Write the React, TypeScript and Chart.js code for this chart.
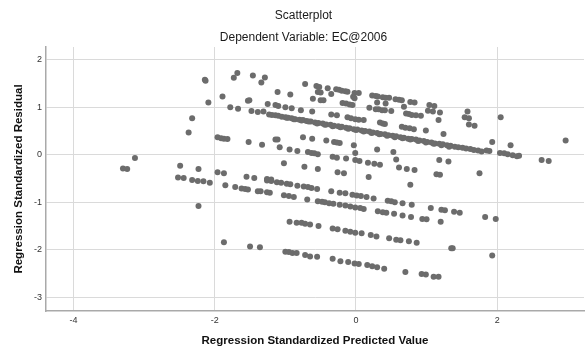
import React, { useEffect, useRef } from "react";
import { Chart, registerables } from "chart.js";

Chart.register(...registerables);

const titleText = "Scatterplot";
const subtitleText = "Dependent Variable: EC@2006";
const xAxisTitle = "Regression Standardized Predicted Value";
const yAxisTitle = "Regression Standardized Residual";

const xTicks = [-4, -2, 0, 2];
const yTicks = [-3, -2, -1, 0, 1, 2];

// Regression standardized predicted value (x) for each case
const predicted = [
  -2.14, -2.13, -2.09, -2.32, -2.37, -3.13, -3.30, -3.24, -2.49, -2.23,
  -2.52, -2.44, -2.32, -2.24, -2.16, -2.07, -1.96, -1.87, -1.55, -1.44,
  -1.26, -1.20, -1.02, -0.83, -1.73, -1.68, -1.46, -1.34, -1.29, -1.11,
  -0.93, -1.89, -1.53, -1.51, -1.78, -1.67, -1.48, -1.39, -1.31, -1.25,
  -1.14, -1.10, -1.00, -0.91, -1.96, -1.91, -1.87, -1.82, -1.52, -1.33,
  -1.14, -1.11, -1.08, -0.94,
  -1.85, -1.71, -1.62, -1.57, -1.53, -1.39, -1.35, -1.26, -1.22, -1.26,
  -1.20, -1.12, -1.06, -0.98, -0.93, -0.83, -1.02, -0.95, -0.88, -2.23,
  -0.94, -0.84, -1.87, -1.50, -1.36, -1.00, -0.95, -0.90, -0.84,
  -0.72, -0.56, -0.52, -0.40, -0.54, -0.50, -0.28, -0.24, -0.20, -0.15,
  -0.12, -0.35, -0.02, 0.04, -0.04, -0.02, -0.61, -0.50, -0.46, 0.23,
  0.28, 0.31, 0.38, 0.42, 0.47, 0.56, 0.61, 0.65, 0.77, 0.83,
  0.30, 0.42, 1.04, 1.11, -0.19, -0.14, -0.09, -0.05, 0.19, 0.28,
  0.32, 0.37, 0.41, 0.50, 0.68, 1.02, 1.09, 1.19, 0.71, 0.75,
  0.79, 0.85, 0.92, 1.17, 1.58, 1.54, 1.60, 1.60, 1.68, 2.05,
  -0.35, -0.27, -0.12, -0.07, -0.01, 0.04, 0.11, -0.62, -0.78, 0.34,
  0.38, 0.41, 0.65, 0.70, 0.76, 0.82, 0.99, 1.24, 2.97, 1.93,
  2.19, 2.63, 2.73, 2.04, 2.10, 2.15, 2.22, 2.28, 2.31, 1.85,
  1.89,
  -0.75, -0.62, -0.42, -0.31, -0.27, -0.23, -0.03, -0.01, -0.68, -0.63,
  -0.59, -0.54, -0.33, -0.27, -0.14, -0.01, 0.05, -0.73, -0.54, -0.26,
  -0.17, 0.17, 0.26, 0.34, 0.30, 0.53, 0.57, 0.61, 0.72, 0.83,
  0.18, 1.18, 1.31, 1.14, 1.19, 1.75,
  0.77, -0.74, -0.68, -0.63, -0.55, -0.35, -0.23, -0.15, -0.05, 0.01,
  0.07, 0.15, 0.25, -0.69, -0.54, -0.48, -0.44, -0.38, -0.32, -0.23,
  -0.15, -0.08, -0.01, 0.06, 0.11, 0.45, 0.50, 0.55, 0.66, 0.79,
  0.31, 0.38, 0.43, 0.54, 0.66, 0.78, 0.94, 1.00, 1.06, 1.21,
  1.26, 1.39, 1.47, 1.20, 1.83, 1.98, -0.77, -0.72, -0.65, -0.53,
  -0.33, -0.26, -0.15, -0.08, -0.01, 0.08, 0.21, 0.29, 0.47, 0.57,
  0.63, 0.75, 0.86, 1.35, 1.37, 1.93, -0.72, -0.65, -0.55, -0.33,
  -0.22, -0.11, -0.02, 0.04, 0.16, 0.23, 0.30, 0.40, 0.70, 0.93,
  0.99, 1.10, 1.17,
  -1.23, -1.19, -1.14, -1.10, -1.05, -1.00, -0.96, -0.91, -0.86, -0.80,
  -0.75, -0.70, -0.64, -0.58, -0.53, -0.47, -0.42, -0.36, -0.31, -0.25,
  -0.20, -0.14, -0.09, -0.03, 0.02, 0.08, 0.13, 0.19, 0.24, 0.30,
  0.35, 0.41, 0.46, 0.52, 0.57, 0.63, 0.68, 0.74, 0.79, 0.85,
  0.90, 0.96, 1.01, 1.07, 1.12, 1.18, 1.23, 1.29, 1.34, 1.40,
  1.45, 1.51, 1.56, 1.62, 1.67, 1.73, 1.78,
  -0.98, -0.88, -0.77, -0.67, -0.55, -0.44, -0.33, -0.22, -0.11, 0.00,
  0.11, 0.22, 0.33, 0.44, 0.55, 0.66, 0.77, 0.88, 0.99, 1.10,
  1.21, 1.32,
];

// Regression standardized residual (y) for each case
const residual = [
  1.58, 1.56, 1.10, 0.77, 0.47, -0.07, -0.29, -0.30, -0.23, -0.30,
  -0.48, -0.49, -0.53, -0.55, -0.56, -0.59, -0.37, -0.39, -0.46, -0.49,
  -0.51, -0.52, -0.18, 0.08, 1.62, 1.72, 1.67, 1.52, 1.63, 1.32,
  1.27, 1.23, 1.14, 1.15, 1.00, 0.97, 0.92, 0.90, 0.91, 1.07,
  1.05, 1.03, 1.00, 0.98, 0.37, 0.35, 0.34, 0.33, 0.27, 0.21,
  0.32, 0.32, 0.16, 0.11,
  -0.64, -0.68, -0.71, -0.72, -0.73, -0.77, -0.77, -0.79, -0.80, -0.54,
  -0.55, -0.58, -0.59, -0.61, -0.62, -0.65, -0.85, -0.87, -0.89, -1.08,
  -1.41, -1.43, -1.84, -1.93, -1.95, -2.04, -2.05, -2.07, -2.07,
  1.49, 1.45, 1.43, 1.40, 1.32, 1.31, 1.38, 1.37, 1.35, 1.34,
  1.33, 1.28, 1.30, 1.30, 1.22, 1.19, 1.18, 1.15, 1.15, 1.25,
  1.24, 1.23, 1.21, 1.20, 1.20, 1.17, 1.16, 1.15, 1.11, 1.10,
  1.10, 1.08, 1.05, 1.03, 1.09, 1.08, 1.06, 1.05, 0.99, 0.96,
  0.96, 0.94, 0.94, 0.92, 1.01, 0.93, 0.91, 0.89, 0.87, 0.86,
  0.84, 0.83, 0.82, 0.73, 0.91, 0.79, 0.77, 0.64, 0.61, 0.79,
  0.85, 0.83, 0.79, 0.77, 0.75, 0.74, 0.73, 0.91, 0.94, 0.68,
  0.66, 0.65, 0.59, 0.57, 0.56, 0.54, 0.51, 0.44, 0.30, 0.27,
  0.20, -0.11, -0.13, 0.04, 0.03, 0.01, -0.01, -0.03, -0.02, 0.09,
  0.08,
  0.37, 0.34, 0.30, 0.27, 0.26, 0.25, 0.20, 0.04, 0.06, 0.04,
  0.03, 0.01, -0.04, -0.06, -0.08, -0.11, -0.13, -0.25, -0.30, -0.37,
  -0.39, -0.17, -0.19, -0.21, 0.11, 0.06, -0.10, -0.27, -0.30, -0.32,
  -0.47, -0.11, -0.14, -0.41, -0.42, -0.39,
  -0.63, -0.67, -0.68, -0.70, -0.72, -0.77, -0.80, -0.81, -0.84, -0.86,
  -0.87, -0.89, -0.92, -0.94, -0.98, -0.99, -1.00, -1.02, -1.03, -1.05,
  -1.07, -1.09, -1.11, -1.12, -1.14, -0.97, -0.98, -1.00, -1.02, -1.05,
  -1.19, -1.21, -1.22, -1.24, -1.28, -1.31, -1.35, -1.36, -1.12, -1.16,
  -1.17, -1.20, -1.22, -1.41, -1.31, -1.35, -1.43, -1.45, -1.47, -1.50,
  -1.55, -1.57, -1.60, -1.62, -1.64, -1.65, -1.69, -1.72, -1.76, -1.79,
  -1.80, -1.82, -1.85, -1.97, -1.97, -2.12, -2.11, -2.14, -2.15, -2.19,
  -2.24, -2.26, -2.29, -2.30, -2.32, -2.35, -2.37, -2.40, -2.47, -2.51,
  -2.52, -2.57, -2.57,
  0.85, 0.84, 0.83, 0.82, 0.80, 0.79, 0.78, 0.77, 0.75, 0.74,
  0.73, 0.71, 0.70, 0.68, 0.67, 0.66, 0.64, 0.63, 0.61, 0.60,
  0.59, 0.57, 0.56, 0.54, 0.53, 0.51, 0.50, 0.49, 0.47, 0.46,
  0.44, 0.43, 0.41, 0.40, 0.39, 0.37, 0.36, 0.34, 0.33, 0.32,
  0.30, 0.29, 0.27, 0.26, 0.24, 0.23, 0.22, 0.20, 0.19, 0.17,
  0.16, 0.15, 0.13, 0.12, 0.10, 0.09, 0.07,
  0.78, 0.75, 0.72, 0.70, 0.66, 0.63, 0.60, 0.58, 0.55, 0.52,
  0.49, 0.46, 0.43, 0.40, 0.37, 0.35, 0.32, 0.29, 0.26, 0.23,
  0.20, 0.17,
];

const FONT = "'Liberation Sans', Arial, Helvetica, sans-serif";

const titlesPlugin = {
  id: "spssTitles",
  afterDraw(chart: any) {
    const ctx = chart.ctx;
    const cx = chart.width / 2 + 10;
    ctx.save();
    ctx.fillStyle = "#1a1a1a";
    ctx.textAlign = "center";
    ctx.textBaseline = "middle";
    ctx.font = `12px ${FONT}`;
    ctx.fillText(titleText, cx, 16);
    ctx.fillText(subtitleText, cx, 37.5);
    ctx.restore();
  },
};

export default function App() {
  const ref = useRef<HTMLCanvasElement | null>(null);

  useEffect(() => {
    document.body.style.margin = "0";
    const canvas = ref.current;
    if (!canvas) return;
    const points = predicted.map((x, i) => ({ x, y: residual[i] }));
    const chart = new Chart(canvas, {
      type: "scatter",
      data: {
        datasets: [
          {
            data: points,
            backgroundColor: "#6c6c6c",
            borderColor: "#6c6c6c",
            borderWidth: 0,
            pointRadius: 3,
            pointHoverRadius: 3,
          },
        ],
      },
      plugins: [titlesPlugin],
      options: {
        animation: false,
        responsive: false,
        devicePixelRatio: 1,
        layout: { padding: { top: 47, right: 0, left: 0, bottom: 0 } },
        plugins: {
          legend: { display: false },
          tooltip: { enabled: false },
          title: { display: false },
        },
        scales: {
          x: {
            type: "linear",
            min: -4.39,
            max: 3.23,
            afterBuildTicks: (s: any) => {
              s.ticks = xTicks.map((v) => ({ value: v }));
            },
            afterFit: (s: any) => {
              s.height = 38;
            },
            ticks: {
              font: { size: 9, family: FONT },
              color: "#333",
              padding: 4,
              maxRotation: 0,
              autoSkip: false,
            },
            grid: { color: "#dadada", lineWidth: 1, drawTicks: false },
            border: { color: "#a9a9a9", width: 1.5 },
            title: {
              display: true,
              text: xAxisTitle,
              font: { size: 11.5, weight: "bold", family: FONT },
              color: "#111",
              padding: { top: 0, bottom: 1 },
            },
          },
          y: {
            type: "linear",
            min: -3.29,
            max: 2.27,
            afterBuildTicks: (s: any) => {
              s.ticks = yTicks.map((v) => ({ value: v }));
            },
            afterFit: (s: any) => {
              s.width = 46;
            },
            ticks: {
              font: { size: 9, family: FONT },
              color: "#333",
              padding: 4,
              autoSkip: false,
            },
            grid: { color: "#dadada", lineWidth: 1, drawTicks: false },
            border: { color: "#a9a9a9", width: 1.5 },
            title: {
              display: true,
              text: yAxisTitle,
              font: { size: 11.5, weight: "bold", family: FONT },
              color: "#111",
              padding: { top: 12, bottom: 0 },
            },
          },
        },
      },
    });
    return () => chart.destroy();
  }, []);

  return <canvas ref={ref} width={587} height={349} style={{ display: "block" }} />;
}
